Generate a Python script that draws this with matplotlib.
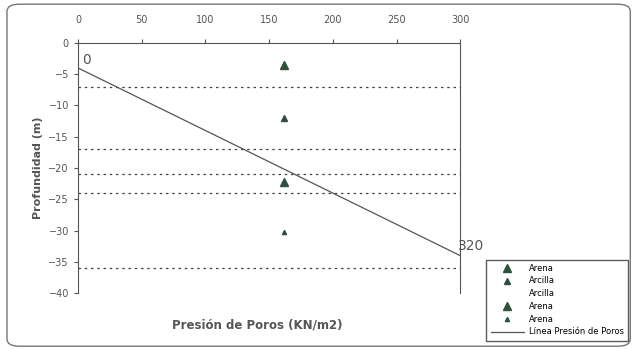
import matplotlib.pyplot as plt
from matplotlib.patches import FancyBboxPatch

# datos
estratos = [-7, -17, -21, -24, -36]
muestras_x = [162, 162, 162, 162]
muestras_y = [-3.5, -12, -22.3, -30.2]
muestras_nombre = ["Arena", "Arcilla", "Arena", "Arena"]
muestras_tam = [6, 5, 6, 3]
linea_x = [0, 300]
linea_y = [-4, -34]
linea_etiquetas = ["0", "320"]
xticks = [0, 50, 100, 150, 200, 250, 300]
yticks = [0, -5, -10, -15, -20, -25, -30, -35, -40]

fig = plt.figure(figsize=(6.36, 3.49), dpi=100)
fig.patches.append(FancyBboxPatch((0.011, 0.008), 0.98, 0.98, boxstyle="round,pad=0,rounding_size=0.02",
                                  transform=fig.transFigure, fill=False, ec="#777777", lw=1.0))
ax = fig.add_axes([0.1226, 0.160, 0.601, 0.717])

for y in estratos:
    ax.axhline(y, color="#444444", ls=(0, (2, 3)), lw=0.9)

gris = "#2f4f3f"
h = []
for x, y, n, s in zip(muestras_x, muestras_y, muestras_nombre, muestras_tam):
    p, = ax.plot(x, y, "^", color=gris, ms=s, label=n)
    h.append(p)
vacio, = ax.plot([], [], ls="none", label="Arcilla")
ln, = ax.plot(linea_x, linea_y, color="#555555", lw=0.9, label="Línea Presión de Poros")
ax.text(linea_x[0] + 3, linea_y[0] + 0.2, linea_etiquetas[0], fontsize=10, color="#555555", va="bottom")
ax.text(linea_x[1] - 2, linea_y[1] + 1.6, linea_etiquetas[1], fontsize=10, color="#555555", va="center")

ax.set_xlim(0, 300)
ax.set_ylim(-40, 0)
ax.xaxis.tick_top()
ax.set_xticks(xticks)
ax.set_yticks(yticks)
ax.tick_params(labelsize=7, colors="#555555", length=3)
ax.tick_params(axis="x", pad=10)
ax.spines["bottom"].set_visible(False)
for s in ["top", "left", "right"]:
    ax.spines[s].set_color("#555555")
ax.set_ylabel("Profundidad (m)", fontsize=8, fontweight="bold", color="#555555")
ax.set_xlabel("Presión de Poros (KN/m2)", fontsize=8.5, fontweight="bold", color="#555555")
ax.xaxis.set_label_coords(0.47, -0.1)

leg = fig.legend(handles=[h[0], h[1], vacio, h[2], h[3], ln], fontsize=6, loc="lower right",
                 bbox_to_anchor=(0.994, 0.012), frameon=True, fancybox=False,
                 edgecolor="#333333", borderpad=0.5, labelspacing=0.45, handlelength=4.0,
                 handletextpad=0.6)
leg.get_frame().set_linewidth(1.0)

fig.savefig("out.png", dpi=100)
